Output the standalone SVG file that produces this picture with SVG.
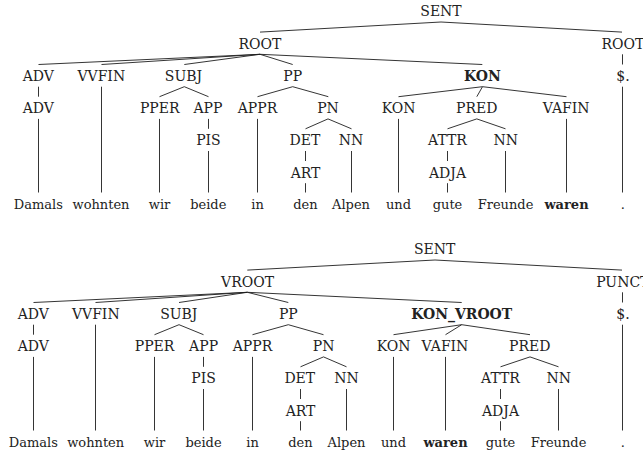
<svg xmlns="http://www.w3.org/2000/svg" width="643" height="452" viewBox="0 0 643 452">
  <style>
    text { font-family: "DejaVu Serif", "Liberation Serif", serif; font-size: 14px; fill: #222; text-anchor: middle; }
    .w text { font-size: 13px; }
    .b { font-weight: bold; }
    .edges line { stroke: #1e1e1e; stroke-width: 0.9; fill: none; }
  </style>
  <rect width="643" height="452" fill="#fff"/>

  <!-- ===== Tree 1: KON attachment ===== -->
  <g id="tree1">
    <g id="tree1-edges" class="edges">
      <line x1="441" y1="22" x2="260" y2="32.1"/>
      <line x1="441" y1="22" x2="622" y2="32.1"/>
      <line x1="260" y1="54.3" x2="38.5" y2="64.5"/>
      <line x1="260" y1="54.3" x2="101.5" y2="64.5"/>
      <line x1="260" y1="54.3" x2="184.3" y2="64.5"/>
      <line x1="260" y1="54.3" x2="292.7" y2="64.5"/>
      <line x1="260" y1="54.3" x2="482.3" y2="64.5"/>
      <line x1="622.5" y1="54.3" x2="622.5" y2="64.5"/>
      <line x1="38.5" y1="86.7" x2="38.5" y2="96.7"/>
      <line x1="101.5" y1="86.7" x2="101.5" y2="192.5"/>
      <line x1="184.3" y1="86.7" x2="159.5" y2="96.7"/>
      <line x1="184.3" y1="86.7" x2="208.5" y2="96.7"/>
      <line x1="292.7" y1="86.7" x2="257.5" y2="96.7"/>
      <line x1="292.7" y1="86.7" x2="328.3" y2="96.7"/>
      <line x1="482.5" y1="86.7" x2="398.5" y2="96.7"/>
      <line x1="482.5" y1="86.7" x2="476.8" y2="96.7"/>
      <line x1="482.5" y1="86.7" x2="566.5" y2="96.7"/>
      <line x1="622.5" y1="86.7" x2="622.5" y2="192.5"/>
      <line x1="38.5" y1="118.9" x2="38.5" y2="192.5"/>
      <line x1="159.5" y1="118.9" x2="159.5" y2="192.5"/>
      <line x1="208.5" y1="118.9" x2="208.5" y2="128.8"/>
      <line x1="257.5" y1="118.9" x2="257.5" y2="192.5"/>
      <line x1="328" y1="118.9" x2="305.5" y2="128.8"/>
      <line x1="328" y1="118.9" x2="351.5" y2="128.8"/>
      <line x1="398.5" y1="118.9" x2="398.5" y2="192.5"/>
      <line x1="476.8" y1="118.9" x2="447.5" y2="128.8"/>
      <line x1="476.8" y1="118.9" x2="505.5" y2="128.8"/>
      <line x1="566.5" y1="118.9" x2="566.5" y2="192.5"/>
      <line x1="208.5" y1="151" x2="208.5" y2="192.5"/>
      <line x1="305.5" y1="151" x2="305.5" y2="161"/>
      <line x1="351.5" y1="151" x2="351.5" y2="192.5"/>
      <line x1="447.5" y1="151" x2="447.5" y2="161"/>
      <line x1="505.5" y1="151" x2="505.5" y2="192.5"/>
      <line x1="305.5" y1="183.2" x2="305.5" y2="192.5"/>
      <line x1="447.5" y1="183.2" x2="447.5" y2="192.5"/>
    </g>

    <g id="t1-sent"><text x="441" y="16.3">SENT</text></g>
    <g id="t1-root"><text x="260" y="48.6">ROOT</text></g>
    <g id="t1-root-punct"><text x="623" y="48.6">ROOT</text></g>

    <g id="t1-adv"><text x="38.3" y="81">ADV</text></g>
    <g id="t1-vvfin"><text x="101.3" y="81">VVFIN</text></g>
    <g id="t1-subj"><text x="183.5" y="81">SUBJ</text></g>
    <g id="t1-pp"><text x="292.7" y="81">PP</text></g>
    <g id="t1-kon"><text class="b" x="482.3" y="81">KON</text></g>
    <g id="t1-punct-tag"><text x="623" y="81">$.</text></g>

    <g id="t1-adv-pos"><text x="38.3" y="113.2">ADV</text></g>
    <g id="t1-pper"><text x="159.7" y="113.2">PPER</text></g>
    <g id="t1-app"><text x="207.9" y="113.2">APP</text></g>
    <g id="t1-appr"><text x="257.5" y="113.2">APPR</text></g>
    <g id="t1-pn"><text x="328" y="113.2">PN</text></g>
    <g id="t1-kon-pos"><text x="398.7" y="113.2">KON</text></g>
    <g id="t1-pred"><text x="476.8" y="113.2">PRED</text></g>
    <g id="t1-vafin"><text x="566.2" y="113.2">VAFIN</text></g>

    <g id="t1-pis"><text x="208.4" y="145.3">PIS</text></g>
    <g id="t1-det"><text x="305" y="145.3">DET</text></g>
    <g id="t1-nn1"><text x="351" y="145.3">NN</text></g>
    <g id="t1-attr"><text x="447.5" y="145.3">ATTR</text></g>
    <g id="t1-nn2"><text x="505.8" y="145.3">NN</text></g>

    <g id="t1-art"><text x="305.5" y="177.5">ART</text></g>
    <g id="t1-adja"><text x="447.5" y="177.5">ADJA</text></g>

    <g id="t1-w-damals" class="w"><text x="38.3" y="209">Damals</text></g>
    <g id="t1-w-wohnten" class="w"><text x="101" y="209">wohnten</text></g>
    <g id="t1-w-wir" class="w"><text x="159.5" y="209">wir</text></g>
    <g id="t1-w-beide" class="w"><text x="208.3" y="209">beide</text></g>
    <g id="t1-w-in" class="w"><text x="257.5" y="209">in</text></g>
    <g id="t1-w-den" class="w"><text x="305.5" y="209">den</text></g>
    <g id="t1-w-alpen" class="w"><text x="351" y="209">Alpen</text></g>
    <g id="t1-w-und" class="w"><text x="398.5" y="209">und</text></g>
    <g id="t1-w-gute" class="w"><text x="447.5" y="209">gute</text></g>
    <g id="t1-w-freunde" class="w"><text x="505.5" y="209">Freunde</text></g>
    <g id="t1-w-waren" class="w"><text class="b" x="566.5" y="209">waren</text></g>
    <g id="t1-w-dot" class="w"><text x="622.7" y="209">.</text></g>
  </g>

  <!-- ===== Tree 2: KON_VROOT attachment ===== -->
  <g id="tree2">
    <g id="tree2-edges" class="edges">
      <line x1="435" y1="260" x2="247.3" y2="270.1"/>
      <line x1="435" y1="260" x2="622" y2="270.1"/>
      <line x1="247.3" y1="292.3" x2="33.5" y2="302.5"/>
      <line x1="247.3" y1="292.3" x2="95.5" y2="302.5"/>
      <line x1="247.3" y1="292.3" x2="179" y2="302.5"/>
      <line x1="247.3" y1="292.3" x2="288.3" y2="302.5"/>
      <line x1="247.3" y1="292.3" x2="461.7" y2="302.5"/>
      <line x1="622.5" y1="292.3" x2="622.5" y2="302.5"/>
      <line x1="33.5" y1="324.7" x2="33.5" y2="334.7"/>
      <line x1="95.5" y1="324.7" x2="95.5" y2="430.5"/>
      <line x1="179" y1="324.7" x2="154.5" y2="334.7"/>
      <line x1="179" y1="324.7" x2="203.5" y2="334.7"/>
      <line x1="288.3" y1="324.7" x2="252.5" y2="334.7"/>
      <line x1="288.3" y1="324.7" x2="323.5" y2="334.7"/>
      <line x1="461.7" y1="324.7" x2="393.5" y2="334.7"/>
      <line x1="461.7" y1="324.7" x2="445.5" y2="334.7"/>
      <line x1="461.7" y1="324.7" x2="530" y2="334.7"/>
      <line x1="622.5" y1="324.7" x2="622.5" y2="430.5"/>
      <line x1="33.5" y1="356.9" x2="33.5" y2="430.5"/>
      <line x1="154.5" y1="356.9" x2="154.5" y2="430.5"/>
      <line x1="203.5" y1="356.9" x2="203.5" y2="366.8"/>
      <line x1="252.5" y1="356.9" x2="252.5" y2="430.5"/>
      <line x1="323.5" y1="356.9" x2="300.5" y2="366.8"/>
      <line x1="323.5" y1="356.9" x2="346.5" y2="366.8"/>
      <line x1="393.5" y1="356.9" x2="393.5" y2="430.5"/>
      <line x1="445.5" y1="356.9" x2="445.5" y2="430.5"/>
      <line x1="530" y1="356.9" x2="500.5" y2="366.8"/>
      <line x1="530" y1="356.9" x2="558.5" y2="366.8"/>
      <line x1="203.5" y1="389" x2="203.5" y2="430.5"/>
      <line x1="300.5" y1="389" x2="300.5" y2="399"/>
      <line x1="346.5" y1="389" x2="346.5" y2="430.5"/>
      <line x1="500.5" y1="389" x2="500.5" y2="399"/>
      <line x1="558.5" y1="389" x2="558.5" y2="430.5"/>
      <line x1="300.5" y1="421.2" x2="300.5" y2="430.5"/>
      <line x1="500.5" y1="421.2" x2="500.5" y2="430.5"/>
    </g>

    <g id="t2-sent"><text x="434.7" y="254.3">SENT</text></g>
    <g id="t2-vroot"><text x="247.6" y="286.6">VROOT</text></g>
    <g id="t2-punct"><text x="622.8" y="286.6">PUNCT</text></g>

    <g id="t2-adv"><text x="33.3" y="319">ADV</text></g>
    <g id="t2-vvfin"><text x="95.8" y="319">VVFIN</text></g>
    <g id="t2-subj"><text x="178.8" y="319">SUBJ</text></g>
    <g id="t2-pp"><text x="288.3" y="319">PP</text></g>
    <g id="t2-kon-vroot"><text class="b" x="461.7" y="319">KON_VROOT</text></g>
    <g id="t2-punct-tag"><text x="623" y="319">$.</text></g>

    <g id="t2-adv-pos"><text x="33.3" y="351.2">ADV</text></g>
    <g id="t2-pper"><text x="154.6" y="351.2">PPER</text></g>
    <g id="t2-app"><text x="203.6" y="351.2">APP</text></g>
    <g id="t2-appr"><text x="252.5" y="351.2">APPR</text></g>
    <g id="t2-pn"><text x="323.6" y="351.2">PN</text></g>
    <g id="t2-kon"><text x="393.6" y="351.2">KON</text></g>
    <g id="t2-vafin"><text x="445" y="351.2">VAFIN</text></g>
    <g id="t2-pred"><text x="529.7" y="351.2">PRED</text></g>

    <g id="t2-pis"><text x="203.5" y="383.3">PIS</text></g>
    <g id="t2-det"><text x="299.8" y="383.3">DET</text></g>
    <g id="t2-nn1"><text x="346.4" y="383.3">NN</text></g>
    <g id="t2-attr"><text x="500.5" y="383.3">ATTR</text></g>
    <g id="t2-nn2"><text x="558.8" y="383.3">NN</text></g>

    <g id="t2-art"><text x="300.5" y="415.5">ART</text></g>
    <g id="t2-adja"><text x="500.5" y="415.5">ADJA</text></g>

    <g id="t2-w-damals" class="w"><text x="33.3" y="447">Damals</text></g>
    <g id="t2-w-wohnten" class="w"><text x="95.7" y="447">wohnten</text></g>
    <g id="t2-w-wir" class="w"><text x="154.5" y="447">wir</text></g>
    <g id="t2-w-beide" class="w"><text x="203.5" y="447">beide</text></g>
    <g id="t2-w-in" class="w"><text x="252.5" y="447">in</text></g>
    <g id="t2-w-den" class="w"><text x="300.5" y="447">den</text></g>
    <g id="t2-w-alpen" class="w"><text x="346.5" y="447">Alpen</text></g>
    <g id="t2-w-und" class="w"><text x="393.5" y="447">und</text></g>
    <g id="t2-w-waren" class="w"><text class="b" x="445.5" y="447">waren</text></g>
    <g id="t2-w-gute" class="w"><text x="500.5" y="447">gute</text></g>
    <g id="t2-w-freunde" class="w"><text x="558.5" y="447">Freunde</text></g>
    <g id="t2-w-dot" class="w"><text x="622.7" y="447">.</text></g>
  </g>
</svg>
